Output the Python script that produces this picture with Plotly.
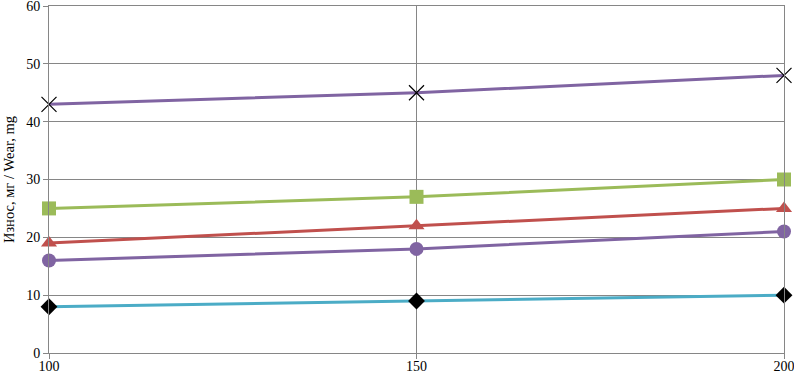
import plotly.graph_objects as go

x_vals = [100, 150, 200]
s_diamond = [8, 9, 10]
s_circle = [16, 18, 21]
s_triangle = [19, 22, 25]
s_square = [25, 27, 30]
s_cross = [43, 45, 48]
y_title = "Износ, мг / Wear, mg"

fig = go.Figure()
series = [
    (s_diamond, "#4BACC6", "diamond", "#000000", 13),
    (s_circle, "#8064A2", "circle", "#8064A2", 14),
    (s_triangle, "#C0504D", "triangle-up", "#C0504D", 14),
    (s_square, "#9BBB59", "square", "#9BBB59", 14),
    (s_cross, "#8064A2", "x-thin", "#000000", 15),
]
for ys, lc, sym, mc, ms in series:
    marker = dict(symbol=sym, color=mc, size=ms)
    if sym == "x-thin":
        marker["line"] = dict(color=mc, width=1.2)
    fig.add_trace(go.Scatter(x=x_vals, y=ys, mode="lines+markers",
                             line=dict(color=lc, width=3), marker=marker,
                             showlegend=False, cliponaxis=False))

fig.update_layout(
    width=794, height=375,
    margin=dict(l=49, r=10, t=6, b=22, autoexpand=False),
    plot_bgcolor="white", paper_bgcolor="white",
    font=dict(family="Liberation Serif, Times New Roman, serif", size=14, color="#000000"),
)
fig.update_xaxes(range=[100, 200], tickvals=[100, 150, 200], showgrid=True,
                 gridcolor="#868686", gridwidth=1, showline=True, linecolor="#868686",
                 mirror=True, ticks="outside", ticklen=5, tickcolor="#868686",
                 zeroline=False, automargin=False, ticklabeloverflow="allow",
                 tickfont=dict(size=14), ticklabelstandoff=-5)
fig.update_yaxes(range=[0, 60], dtick=10, showgrid=True, gridcolor="#868686",
                 gridwidth=1, showline=True, linecolor="#868686", mirror=True,
                 ticks="outside", ticklen=5, tickcolor="#868686", zeroline=False,
                 automargin=False, ticklabeloverflow="allow")
fig.add_annotation(text=y_title, xref="paper", yref="paper", x=-0.055, y=0.5,
                   xanchor="center", yanchor="middle", textangle=-90,
                   showarrow=False, font=dict(size=14.5))
fig.write_html("out.html", config={"displayModeBar": False},
               post_script="document.body.style.margin='0';")
